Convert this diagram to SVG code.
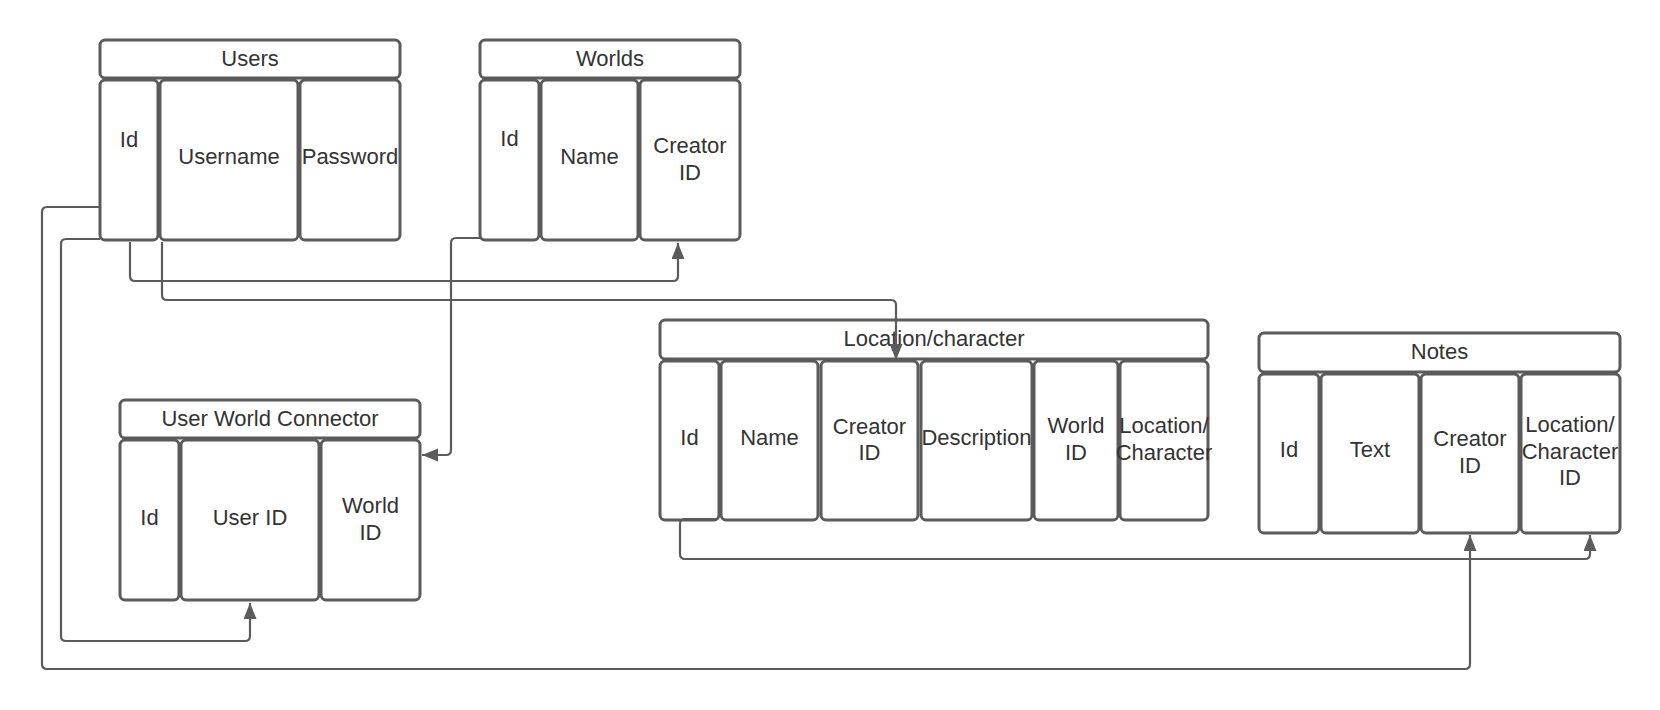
<svg xmlns="http://www.w3.org/2000/svg" width="1660" height="710" viewBox="0 0 1660 710">
<style>
.box{fill:#ffffff;stroke:#5b5b5b;stroke-width:3}
.t{font-family:"Liberation Sans",Arial,sans-serif;font-size:22px;fill:#333333;text-anchor:middle}
.c{fill:none;stroke:#5b5b5b;stroke-width:2.2}
</style>
<defs>
<marker id="arr" markerUnits="userSpaceOnUse" markerWidth="17" markerHeight="14" refX="16" refY="6.5" orient="auto">
<path d="M0,0 L16,6.5 L0,13 Z" fill="#5b5b5b"/>
</marker>
</defs>
<rect width="1660" height="710" fill="#ffffff"/>

<g id="users">
<rect class="box" x="100" y="40" width="300" height="38" rx="5"/>
<rect class="box" x="100" y="80" width="58" height="160" rx="5"/>
<rect class="box" x="160" y="80" width="138" height="160" rx="5"/>
<rect class="box" x="300" y="80" width="100" height="160" rx="5"/>
<text class="t" x="250" y="65.5">Users</text>
<text class="t" x="129" y="146.5">Id</text>
<text class="t" x="229" y="164">Username</text>
<text class="t" x="350" y="164">Password</text>
</g>

<g id="worlds">
<rect class="box" x="480" y="40" width="260" height="38" rx="5"/>
<rect class="box" x="480" y="80" width="59" height="160" rx="5"/>
<rect class="box" x="541" y="80" width="97" height="160" rx="5"/>
<rect class="box" x="640" y="80" width="100" height="160" rx="5"/>
<text class="t" x="610" y="65.5">Worlds</text>
<text class="t" x="509.5" y="146">Id</text>
<text class="t" x="589.5" y="164">Name</text>
<text class="t" x="690" y="152.5">Creator</text>
<text class="t" x="690" y="179.5">ID</text>
</g>

<g id="user-world-connector">
<rect class="box" x="120" y="400" width="300" height="38" rx="5"/>
<rect class="box" x="120" y="440" width="59" height="160" rx="5"/>
<rect class="box" x="181" y="440" width="138" height="160" rx="5"/>
<rect class="box" x="321" y="440" width="99" height="160" rx="5"/>
<text class="t" x="270" y="425.5">User World Connector</text>
<text class="t" x="149.5" y="524.5">Id</text>
<text class="t" x="250" y="524.5">User ID</text>
<text class="t" x="370.5" y="512.5">World</text>
<text class="t" x="370.5" y="539.5">ID</text>
</g>

<g id="location-character">
<rect class="box" x="660" y="320" width="548" height="39" rx="5"/>
<rect class="box" x="660" y="361" width="59" height="159" rx="5"/>
<rect class="box" x="721" y="361" width="97" height="159" rx="5"/>
<rect class="box" x="821" y="361" width="97" height="159" rx="5"/>
<rect class="box" x="921" y="361" width="111" height="159" rx="5"/>
<rect class="box" x="1034" y="361" width="84" height="159" rx="5"/>
<rect class="box" x="1120" y="361" width="88" height="159" rx="5"/>
<text class="t" x="934" y="345.5">Location/character</text>
<text class="t" x="689.5" y="444.5">Id</text>
<text class="t" x="769.5" y="444.5">Name</text>
<text class="t" x="869.5" y="433.5">Creator</text>
<text class="t" x="869.5" y="459.5">ID</text>
<text class="t" x="976.5" y="444.5">Description</text>
<text class="t" x="1076" y="432.5">World</text>
<text class="t" x="1076" y="459.5">ID</text>
<text class="t" x="1164" y="432.5">Location/</text>
<text class="t" x="1164" y="459.5">Character</text>
</g>

<g id="notes">
<rect class="box" x="1259" y="333" width="361" height="39" rx="5"/>
<rect class="box" x="1259" y="374" width="60" height="159" rx="5"/>
<rect class="box" x="1321" y="374" width="98" height="159" rx="5"/>
<rect class="box" x="1421" y="374" width="98" height="159" rx="5"/>
<rect class="box" x="1521" y="374" width="99" height="159" rx="5"/>
<text class="t" x="1439.5" y="358.5">Notes</text>
<text class="t" x="1289" y="456.5">Id</text>
<text class="t" x="1370" y="456.5">Text</text>
<text class="t" x="1470" y="445.5">Creator</text>
<text class="t" x="1470" y="472.5">ID</text>
<text class="t" x="1570" y="431.5">Location/</text>
<text class="t" x="1570" y="458.5">Character</text>
<text class="t" x="1570" y="484.5">ID</text>
</g>

<g id="connectors">
<path class="c" marker-end="url(#arr)" d="M130,242 V276 Q130,281 135,281 H673 Q678,281 678,276 V243"/>
<path class="c" marker-end="url(#arr)" d="M162,242 V295 Q162,300 167,300 H891 Q896,300 896,305 V360"/>
<path class="c" marker-end="url(#arr)" d="M100,207 H47 Q42,207 42,212 V664 Q42,669 47,669 H1465 Q1470,669 1470,664 V535"/>
<path class="c" marker-end="url(#arr)" d="M100,239 H66 Q61,239 61,244 V636 Q61,641 66,641 H245 Q250,641 250,636 V603"/>
<path class="c" marker-end="url(#arr)" d="M480,238 H456 Q451,238 451,243 V450 Q451,455 446,455 H422"/>
<path class="c" marker-end="url(#arr)" d="M718,519 H685 Q680,519 680,524 V554 Q680,559 685,559 H1585 Q1590,559 1590,554 V535"/>
</g>
</svg>
